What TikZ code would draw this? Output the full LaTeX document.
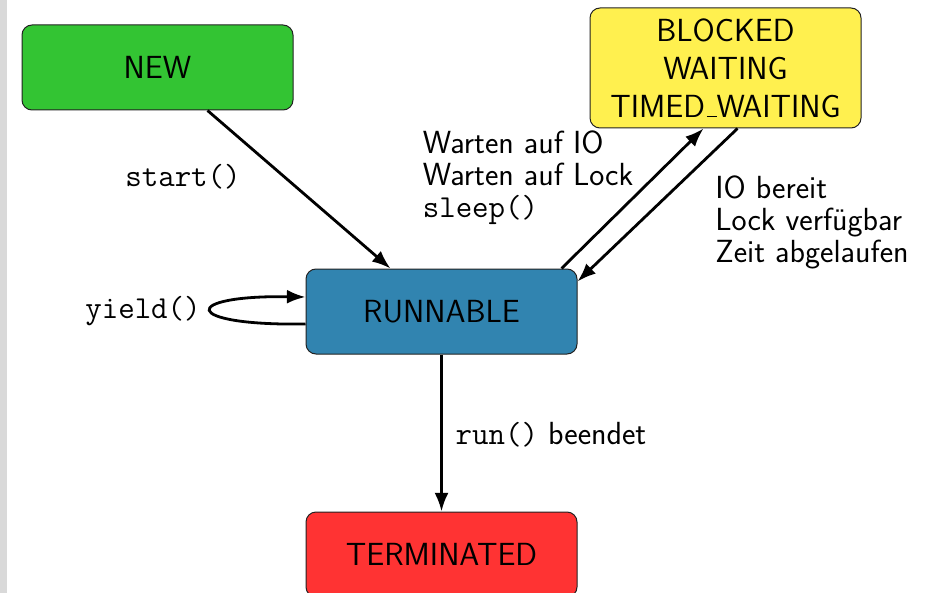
\documentclass[tikz,border=0pt]{standalone}
\usepackage{fontspec}
\usepackage{xcolor}
\usepackage{tikz}
\usetikzlibrary{arrows.meta}
\definecolor{newc}{HTML}{33C433}
\definecolor{blockc}{HTML}{FFF04F}
\definecolor{runc}{HTML}{3184B0}
\definecolor{termc}{HTML}{FF3333}
\definecolor{barc}{HTML}{D9D9D9}
\definecolor{rim}{HTML}{222222}
\newcommand\uscore{\kern.06em\vbox{\hrule width.3em}}
\tikzset{
  state/.style={draw=rim, line width=0.5pt, rounded corners=5pt, minimum width=135.5pt, minimum height=42.5pt, align=center, font=\sffamily\fontsize{16}{19}\selectfont},
  trans/.style={draw=black, line width=1.4pt, -{Latex}},
  lab/.style={font=\sffamily\fontsize{16}{16}\selectfont, align=left, inner sep=0pt},
  labtt/.style={font=\ttfamily\fontsize{16}{16}\selectfont, inner sep=0pt},
}

\begin{document}
\begin{tikzpicture}[x=0.5pt,y=-0.5pt]
  \useasboundingbox (0,0) rectangle (930,593);
  \fill[barc] (0,0) rectangle (7,593);

  \node[state,fill=newc] (new) at (157.5,67.5) {NEW};
  \node[state,fill=blockc,minimum height=60pt] (blocked) at (725.5,68) {BLOCKED\\WAITING\\TIMED\uscore WAITING};
  \node[state,fill=runc] (run) at (441.5,311.5) {RUNNABLE};
  \node[state,fill=termc] (term) at (441.5,554.5) {TERMINATED};

  \draw[trans] ([xshift=25pt]new.south) -- ([xshift=-25.5pt]run.north);
  \draw[trans] ([xshift=60pt]run.north) -- ([xshift=-11pt]blocked.south);
  \draw[trans] ([xshift=6pt]blocked.south) -- ([yshift=-6.5pt]run.north east);
  \draw[trans] (run.south) -- (term.north);
  \draw[trans] ([yshift=-6.25pt]run.west) .. controls (180,326) and (180,295) .. ([yshift=7.25pt]run.west);

  \node[labtt] (lstart) at (183,177) {start()};
  \node[lab] (lwait) at (528,178) {Warten auf IO\\Warten auf Lock\\\texttt{sleep()}};
  \node[lab] (lready) at (812,222) {IO bereit\\Lock verfügbar\\Zeit abgelaufen};
  \node[lab] (lend) at (551,435) {\texttt{run()} beendet};
  \node[labtt] (lyield) at (143,311) {yield()};
\end{tikzpicture}
\end{document}
